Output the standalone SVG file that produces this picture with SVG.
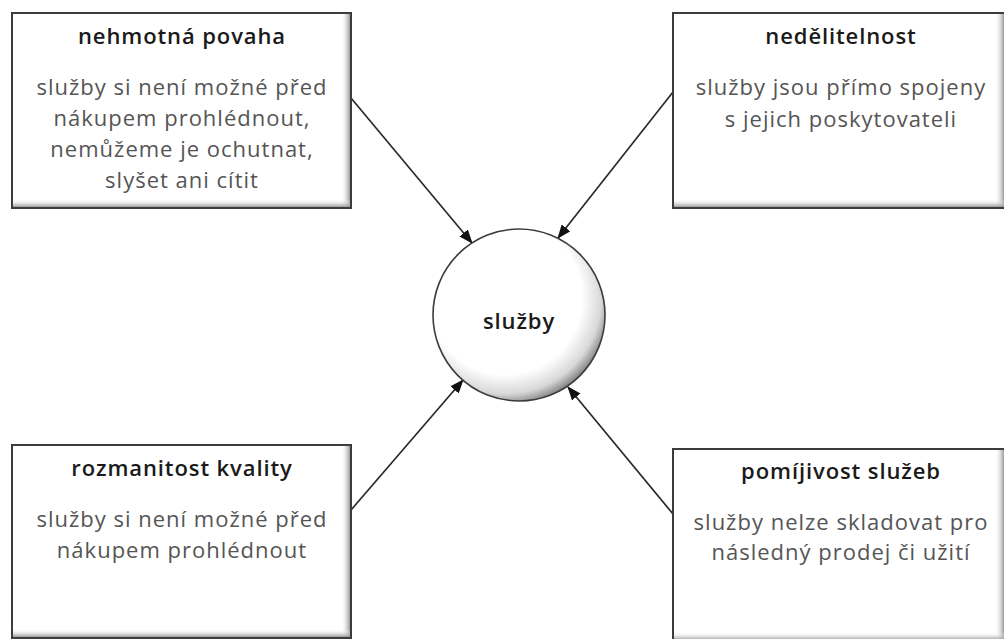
<svg xmlns="http://www.w3.org/2000/svg" width="1004" height="639" viewBox="0 0 1004 639">
<style>
.box{fill:#fff;stroke:#3c3c3c;stroke-width:2}
.title{font-family:"Open Sans","Noto Sans",sans-serif;font-weight:600;font-size:22px;letter-spacing:0.9px;fill:#1a1a1a;text-anchor:middle}
.body{font-family:"Open Sans","Noto Sans",sans-serif;font-size:22px;letter-spacing:1px;fill:#555;text-anchor:middle}
.conn{stroke:#2a2a2a;stroke-width:1.7;fill:none;marker-end:url(#arr)}
</style>
<defs>
<marker id="arr" markerWidth="14" markerHeight="11" refX="13" refY="5.5" orient="auto" markerUnits="userSpaceOnUse">
<path d="M0,0 L14,5.5 L0,11 Z" fill="#111"/>
</marker>
<linearGradient id="shR" x1="0" y1="0" x2="1" y2="0">
<stop offset="0" stop-color="#fff" stop-opacity="0"/>
<stop offset="1" stop-color="#9a9a9a"/>
</linearGradient>
<linearGradient id="shB" x1="0" y1="0" x2="0" y2="1">
<stop offset="0" stop-color="#fff" stop-opacity="0"/>
<stop offset="1" stop-color="#9a9a9a"/>
</linearGradient>
<radialGradient id="circ" cx="0.42" cy="0.4" r="0.62">
<stop offset="0" stop-color="#fff"/>
<stop offset="0.72" stop-color="#fff"/>
<stop offset="0.9" stop-color="#d8d8d8"/>
<stop offset="1" stop-color="#8a8a8a"/>
</radialGradient>
</defs>

<g id="connectors">
<line class="conn" x1="351" y1="98" x2="472" y2="243"/>
<line class="conn" x1="673" y1="92" x2="558" y2="238"/>
<line class="conn" x1="351" y1="510" x2="463" y2="380"/>
<line class="conn" x1="673" y1="514" x2="568" y2="387"/>
</g>

<g id="node-nehmotna">
<rect class="box" x="12" y="13" width="339" height="195"/>
<rect x="341" y="14" width="9" height="193" fill="url(#shR)"/>
<rect x="13" y="199" width="337" height="8" fill="url(#shB)"/>
<text class="title" x="182" y="44">nehmotná povaha</text>
<text class="body" x="182" y="95">služby si není možné před</text>
<text class="body" x="182" y="126">nákupem prohlédnout,</text>
<text class="body" x="182" y="157">nemůžeme je ochutnat,</text>
<text class="body" x="182" y="188">slyšet ani cítit</text>
</g>

<g id="node-nedelitelnost">
<rect class="box" x="673" y="13" width="336" height="195"/>
<rect x="995" y="14" width="9" height="193" fill="url(#shR)"/>
<rect x="674" y="199" width="334" height="8" fill="url(#shB)"/>
<text class="title" x="841" y="44">nedělitelnost</text>
<text class="body" x="841" y="95">služby jsou přímo spojeny</text>
<text class="body" x="841" y="127">s jejich poskytovateli</text>
</g>

<g id="node-rozmanitost">
<rect class="box" x="12" y="445" width="339" height="193"/>
<rect x="341" y="446" width="9" height="191" fill="url(#shR)"/>
<rect x="13" y="629" width="337" height="8" fill="url(#shB)"/>
<text class="title" x="182" y="476">rozmanitost kvality</text>
<text class="body" x="182" y="527">služby si není možné před</text>
<text class="body" x="182" y="558">nákupem prohlédnout</text>
</g>

<g id="node-pomijivost">
<rect class="box" x="673" y="449" width="336" height="194"/>
<rect x="995" y="450" width="9" height="192" fill="url(#shR)"/>
<rect x="674" y="632" width="334" height="8" fill="url(#shB)"/>
<text class="title" x="841" y="479">pomíjivost služeb</text>
<text class="body" x="841" y="530">služby nelze skladovat pro</text>
<text class="body" x="841" y="560">následný prodej či užití</text>
</g>

<g id="node-sluzby">
<circle cx="519" cy="315" r="86" fill="url(#circ)" stroke="#3c3c3c" stroke-width="1.6"/>
<text x="519" y="329" font-family="'Open Sans','Noto Sans',sans-serif" font-size="22" font-weight="600" letter-spacing="0.9" fill="#1a1a1a" text-anchor="middle">služby</text>
</g>
</svg>
